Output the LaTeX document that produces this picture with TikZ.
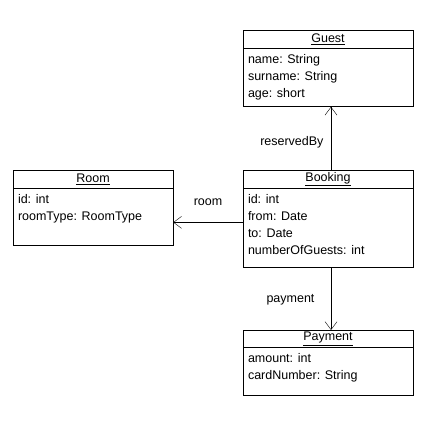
\documentclass[tikz,border=0pt]{standalone}
\usepackage{fontspec}
\setmainfont{Liberation Sans}
\usetikzlibrary{arrows.meta,positioning}

\newcommand{\umlfont}{\fontsize{12.5}{17}\selectfont}

\tikzset{
  head/.style={draw, minimum width=170pt, minimum height=18pt, inner sep=0pt, anchor=north, font=\umlfont},
  body/.style={draw, minimum width=170pt, inner sep=0pt, anchor=north},
  attrs/.style={anchor=north west, align=left, inner sep=0pt, font=\umlfont},
  assoc/.style={draw, -{Straight Barb[length=8pt,width=12pt]}},
  rolelabel/.style={font=\umlfont}
}

\begin{document}
\begin{tikzpicture}[x=1pt,y=-1pt]
        \useasboundingbox (0,0) rectangle (425,425);

        % Guest
        \node[head] (guesthead) at (328,30) {\underline{Guest}};
        \node[body, minimum height=58pt] (guest) at (guesthead.south) {};
        \node[attrs] (guestattrs) at ([xshift=5pt,yshift=-6pt]guest.north west) {name: String\\surname: String\\age: short};

        % Room
        \node[head, minimum width=160pt] (roomhead) at (93,170) {\underline{Room}};
        \node[body, minimum width=160pt, minimum height=57pt] (room) at (roomhead.south) {};
        \node[attrs] (roomattrs) at ([xshift=5pt,yshift=-6pt]room.north west) {id: int\\roomType: RoomType};

        % Booking
        \node[head] (bookinghead) at (328,170) {\underline{Booking}};
        \node[body, minimum height=79pt] (booking) at (bookinghead.south) {};
        \node[attrs] (bookingattrs) at ([xshift=5pt,yshift=-6pt]booking.north west) {id: int\\from: Date\\to: Date\\numberOfGuests: int};

        % Payment
        \node[head, minimum height=17pt] (paymenthead) at (328,330) {\underline{Payment}};
        \node[body, minimum height=48pt] (payment) at (paymenthead.south) {};
        \node[attrs] (paymentattrs) at ([xshift=5pt,yshift=-6pt]payment.north west) {amount: int\\cardNumber: String};

        % Associations
        \draw[assoc] ([xshift=3pt]bookinghead.north) -- ([xshift=3pt]guest.south)
            node[rolelabel, pos=0.5, left=4pt, yshift=-4pt] {reservedBy};
        \draw[assoc] ([yshift=-34pt]booking.north west) -- ([yshift=-34pt]room.north east)
            node[rolelabel, pos=0.5, above=13pt] {room};
        \draw[assoc] ([xshift=3pt]booking.south) -- ([xshift=3pt]paymenthead.north)
            node[rolelabel, pos=0.5, left=13pt, yshift=-1pt] {payment};
    \end{tikzpicture}
\end{document}
